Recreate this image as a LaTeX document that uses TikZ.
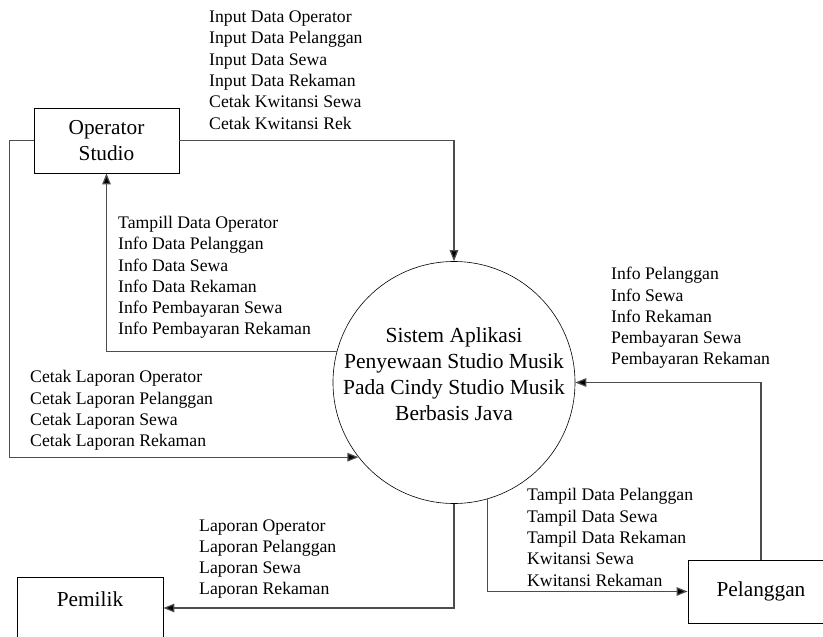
\documentclass[tikz,border=0pt]{standalone}
\usepackage{fontspec}
\setmainfont{Liberation Serif}
\usetikzlibrary{arrows.meta}

\begin{document}
\begin{tikzpicture}[x=1pt,y=-1pt,
  entity/.style={draw,line width=0.8pt,minimum width=145pt,minimum height=65pt,align=center,font=\fontsize{21.3}{25.5}\selectfont},
  proc/.style={draw,circle,line width=0.6pt,minimum size=242pt,inner sep=-15pt,align=center,font=\fontsize{21.5}{25.8}\selectfont},
  flow/.style={draw=black!70,line width=1.2pt,-{Triangle[length=11pt,width=8.5pt,fill=black]}},
  lbl/.style={anchor=west,inner sep=0,align=left,font=\fontsize{17.7}{21.3}\selectfont}]
  \path [use as bounding box,clip] (0,0) rectangle (823,637);

  \node [entity] (opr) at (106.5,140.5) {Operator\\Studio};
  \node [proc,text depth=17pt] (sys) at (454,382.5) {Sistem Aplikasi\\Penyewaan Studio Musik\\Pada Cindy Studio Musik\\Berbasis Java};
  \node [entity,minimum width=146pt,minimum height=62pt,text depth=17pt] (pml) at (90,608) {Pemilik};
  \node [entity,minimum width=146pt,minimum height=63pt] (plg) at (761,591.5) {Pelanggan};

  \draw [flow] (opr.east) -| (sys.north);
  \draw [flow] (opr.west) -- ++(-24,0) |- (sys.218.6);
  \draw [flow] (sys.165.4) -| (opr.south);
  \draw [flow] (sys.south) |- (pml.east);
  \draw [flow] (sys.-74.7) |- (plg.west);
  \draw [flow] (plg.north) |- (sys.east);

  \node [lbl] (input) at (209,70) {Input Data Operator\\Input Data Pelanggan\\Input Data Sewa\\Input Data Rekaman\\Cetak Kwitansi Sewa\\Cetak Kwitansi Rek};
  \node [lbl] (tampill) at (118,277.5) {Tampill Data Operator\\Info Data Pelanggan\\Info Data Sewa\\Info Data Rekaman\\Info Pembayaran Sewa\\Info Pembayaran Rekaman};
  \node [lbl] (cetak) at (30,410.5) {Cetak Laporan Operator\\Cetak Laporan Pelanggan\\Cetak Laporan Sewa\\Cetak Laporan Rekaman};
  \node [lbl] (laporan) at (199,559) {Laporan Operator\\Laporan Pelanggan\\Laporan Sewa\\Laporan Rekaman};
  \node [lbl] (info) at (611,318) {Info Pelanggan\\Info Sewa\\Info Rekaman\\Pembayaran Sewa\\Pembayaran Rekaman};
  \node [lbl] (tampil) at (527,537.5) {Tampil Data Pelanggan\\Tampil Data Sewa\\Tampil Data Rekaman\\Kwitansi Sewa\\Kwitansi Rekaman};

\end{tikzpicture}
\end{document}
